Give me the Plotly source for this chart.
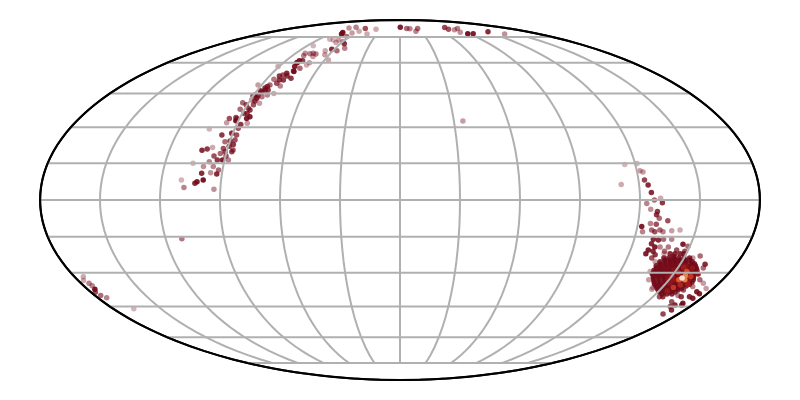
# %% Sky map of points on a Mollweide grid

import plotly.graph_objects as go


# %% Values (degrees)

arc_lon = [-78, -75.7, -87, -78, -57, -38, -59, -64, -63.5, -67, -60, -66, -62.4, -56.5, -67, -63.6, -72.8, -77.8, -51.4, -56,
           -84, -75, -71.8, -77, -82, -80.4, -70, -72, -57, -79.5, -76.9, -79.7, -78.4, -75.7, -73.5, -70.7, -90.8, -79.8, -83.2, -74,
           -78.3, -81, -85, -81, -84.6, -77.4, -85.4, -85.2, -92.3, -88, -78.3, -89.3, -86.8, -84.3, -81.7, -89.2, -86.3, -83.3, -93.5, -88.2,
           -92.5, -89, -84.6, -86, -95.7, -96, -91.4, -91.5, -84.4, -88.2, -103.8, -95.5, -87.6, -90.7, -87.5, -92.5, -87.6, -92.2, -98, -100.5,
           -103, -90.8, -87.3, -93, -95.9, -91, -93.7, -97.6, -88, -105.7, -100, -100.3, -95, -92, -95.8, -92.6, -102, -99, -103, -110,
           -108.3, -93.2,
           -86.3, -86.2, -87.1, -83.3, -86.8, -86.6, -87.2, -92.3, -90.5, -89.9, -86.9, -89.7, -89.5, -76.4, -79.5, -77.9, -81.3, -90.2, -90.6, -87.7]
arc_lat = [78, 77, 81.5, 82, 81, 80.5, 79, 77.6, 75.2, 73, 72, 71.4, 67.4, 66.6, 66.6, 64.3, 73, 73.4, 68, 70.6,
           69.4, 65.2, 64.7, 64.8, 65.2, 63.7, 60, 63.3, 61.5, 61.1, 61.1, 60, 58, 55.5, 57.2, 58.9, 58, 54.7, 53.3, 52.2,
           51.4, 51.4, 51.7, 49.8, 49, 48.5, 48.2, 46.6, 49, 46.3, 45, 44.3, 42.8, 43.5, 44.3, 42, 39.8, 40.5, 40.8, 38.3,
           37.8, 36, 34.5, 33.8, 33.8, 32, 32.8, 33.8, 31.7, 29.6, 29.3, 26.7, 26.7, 27.5, 24.6, 23.9, 22.7, 21.1, 21.5, 20.8,
           20.3, 19.7, 19.7, 19, 17.9, 16.3, 16.3, 15.6, 16.3, 15, 13.6, 10.9, 13.6, 12.2, 11.1, 10.6, 7.4, 8.1, 6.8, 8.1,
           5.1, 4.4,
           45.7, 47.5, 43.9, 46.6, 41.5, 37.5, 36, 34.2, 27.5, 24.2, 20.4, 17.9, 22, 55.8, 60, 53.3, 53.8, 43.9, 39.8, 31.2]
arc_alpha = [.95, .95, .45, .5, .7, .35, .35, .4, .6, .4, .45, .35, .85, .6, .35, .4, .3, .3, .5, .8,
             .3, .5, .5, .5, .45, .5, .4, .4, .35, .9, .8, .85, .9, .9, .6, .35, .35, .85, .8, .8,
             .8, .8, .55, .7, .6, .5, .8, .85, .4, .85, .35, .8, .85, .55, .5, .5, .7, .4, .6, .7,
             .6, .7, .9, .9, .7, .4, .95, .7, .4, .7, .3, .8, .7, .5, .7, .6, .8, .7, .35, .8,
             .85, .75, .75, .6, .7, .9, .8, .5, .5, .3, .45, .85, .5, .6, .45, .85, .9, .95, .85, .3,
             .5, .45,
             .8, .8, .8, .8, .8, .8, .8, .7, .7, .8, .7, .7, .8, .8, .7, .8, .7, .7, .7, .8]

top_lon = [-42.7, 0.5, 11, 16, 29, 23, 78, 77, 94.5, 83.6, 83, 88.6, 95.7, 124, 135.5, 35, -111.7, -167]
top_lat = [77, 82, 81, 80.8, 81, 79, 81.8, 80.5, 81, 80, 78.2, 77.2, 77.2, 78.6, 77, 32.7, -15.8, -46]
top_alpha = [.35, .9, .6, .5, .6, .5, .75, .7, .5, .45, .45, .95, .9, .85, .45, .4, .55, .3]

west_lon = [-175, -177, -175.3, -175, -175.7, -177.4, -176.6, -174.7]
west_lat = [-31.7, -33.4, -34.5, -35.6, -37.2, -38.5, -40, -41]
west_alpha = [.35, .35, .5, .5, .95, .7, .6, .5]

tail_lon = [114.6, 121, 111, 121.6, 123, 123, 124.5, 125.8, 127.2, 123.4, 130.3, 131.2, 125.5, 129, 128.7, 130.3, 134.8, 126.3, 122.2, 123.2,
            129.3, 127.6, 129.4, 131.8, 133.6, 137.9, 142, 129.8, 132.5, 135, 139.2, 146, 129.6, 132, 129.2, 128.8, 132, 134.7, 139, 138,
            144, 133, 133.9, 157.9, 163.3, 149, 148.6, 144,
            145, 170, 164.7, 167.7, 169.3, 172.7, 171.6, 174.7, 172.5, 171, 175.7, 175.4, 166.7, 163.6, 155.8, 153.8, 171.5, 173.5]
tail_lat = [14.4, 14.9, 6.3, 11.9, 11.4, 8.1, 6.1, 3, 0, -1.4, 0.7, -1.1, -3.7, -4.7, -6, -7.4, -8.4, -9.5, -10.8, -12.9,
            -9.8, -12.2, -12.9, -12.2, -12.9, -12.5, -12.2, -16, -16.3, -16, -16, -18.1, -17.8, -19.2, -20.4, -22, -21, -19.2, -19.2, -21,
            -23.1, -23.8, -22.4, -22.9, -26.4, -18.9, -21, -20.4,
            -37.2, -48.5, -42.8, -45, -44.3, -43.5, -40.5, -41.2, -38.3, -34.5, -36.8, -39.2, -40.5, -37.5, -40.5, -40.5, -46.6, -44.3]
tail_alpha = [.3, .3, .35, .4, .4, .75, .85, .85, .6, .5, .35, .8, .45, .8, .8, .6, .7, .5, .9, .5,
              .7, .6, .7, .6, .5, .4, .35, .85, .85, .6, .5, .9, .85, .9, .9, .9, .85, .5, .55, .6,
              .8, .7, .8, .6, .85, .6, .7, .7,
              .4, .75, .7, .75, .85, .9, .85, .9, .9, .4, .4, .9, .8, .7, .8, .7, .85, .85]

fringe_lon = [135.8, 136.3, 138.7, 144.7, 151.2, 164, 166.9, 167.2, 163.8, 154.7, 138.4]
fringe_lat = [-25.3, -29.5, -33, -36.4, -38.2, -40, -36, -33, -28, -23.8, -22]
fringe_alpha = [.4, .35, .4, .35, .4, .5, .5, .6, .6, .4, .35]

blob_lat = ([-22] * 4 + [-23.8] * 6 + [-25.3] * 7 + [-27] * 9 + [-28.9] * 10 + [-30.4] * 10 + [-32.1] * 9 + [-34] * 9 + [-35.8] * 7 + [-37.5] * 5 + [-39.3] * 3
            + [-24.6] * 6 + [-26.2] * 8 + [-28] * 9 + [-29.7] * 9 + [-31.2] * 9 + [-33] * 9 + [-35] * 8 + [-36.7] * 6 + [-38.4] * 4)
blob_lon = [141.5, 144.1, 146.8, 148.8,
            139.4, 142, 144.7, 147.3, 150, 153,
            138.4, 141.1, 143.8, 146.4, 149, 151.8, 155.5,
            137.6, 140.3, 143, 145.7, 148.4, 151, 153.8, 156.5, 158.6,
            137.9, 140.6, 143.3, 146, 148.8, 151.5, 154.2, 156.9, 159.6, 161.2,
            138.2, 140.9, 143.6, 146.4, 149.1, 151.9, 154.6, 157.3, 160, 162.8,
            140.4, 143.2, 146, 148.7, 151.5, 154.3, 157, 159.8, 162.6,
            142.7, 145.5, 148.3, 151.1, 153.9, 156.7, 159.6, 162.4, 164,
            145.8, 148.6, 151.5, 154.3, 157.2, 160, 162.9,
            149, 151.8, 154.7, 157.6, 160.5,
            153.6, 156.5, 159.4,
            140.5, 143.2, 145.8, 148.4, 151, 153.6,
            139, 141.7, 144.4, 147, 149.7, 152.4, 155, 157.4,
            138.5, 141.2, 144, 146.7, 149.4, 152.1, 154.8, 157.5, 160,
            139, 141.7, 144.4, 147.2, 150, 152.7, 155.4, 158.1, 160.8,
            139.5, 142.3, 145, 147.8, 150.6, 153.3, 156, 158.7, 161.5,
            141.5, 144.3, 147.2, 150, 152.8, 155.6, 158.4, 161.2, 163.5,
            144.1, 147, 149.8, 152.6, 155.5, 158.4, 161.2, 163.8,
            147.5, 150.3, 153.2, 156.1, 159, 161.5,
            151, 154, 157, 160]

core_lon = [149, 153.5, 158, 161, 152, 155, 148.5, 152.5, 163.5, 150.1, 152.1, 153, 162.9, 159, 156.4, 160.6, 156.3, 155.5, 157.3, 158.8, 156.5]
core_lat = [-29, -27, -28, -33, -34.5, -38, -32, -33, -30.5, -31.3, -30, -27.8, -35, -35.3, -36.4, -31.6, -29.5, -33, -31.3, -33, -32.3]
core_heat = [.15, .15, .2, .2, .2, .25, .15, .2, .2, .3, .35, .3, .3, .35, .45, .45, .55, .6, .72, .72, 1]

lon_ticks = [-150, -120, -90, -60, -30, 0, 30, 60, 90, 120, 150]
lat_ticks = [-75, -60, -45, -30, -15, 0, 15, 30, 45, 60, 75]


# %% Assemble the points

dark_lon = arc_lon + top_lon + west_lon + tail_lon + fringe_lon + blob_lon
dark_lat = arc_lat + top_lat + west_lat + tail_lat + fringe_lat + blob_lat
dark_alpha = arc_alpha + top_alpha + west_alpha + tail_alpha + fringe_alpha + [.85] * len(blob_lon)

heat_scale = [
    [0.0, "#720818"],
    [0.3, "#a81c1c"],
    [0.6, "#e8602c"],
    [0.85, "#fdb97a"],
    [1.0, "#fff2e0"],
]


# %% Figure

fig = go.Figure()
fig.add_trace(go.Scattergeo(
    lon=dark_lon + core_lon,
    lat=dark_lat + core_lat,
    mode="markers",
    marker={
        "size": 5.5,
        "color": [0] * len(dark_lon) + core_heat,
        "colorscale": heat_scale,
        "cmin": 0,
        "cmax": 1,
        "opacity": dark_alpha + [.9] * len(core_lon),
        "line": {"width": 0},
    },
    hoverinfo="skip",
))

# Grid goes on top of the points and stops at +-75 latitude
for tick in lat_ticks:
    fig.add_trace(go.Scattergeo(
        lon=list(range(-180, 181, 2)),
        lat=[tick] * 181,
        mode="lines",
        line={"width": 2, "color": "#b0b0b0"},
        hoverinfo="skip",
    ))
for tick in lon_ticks:
    fig.add_trace(go.Scattergeo(
        lon=[tick] * 31,
        lat=list(range(-75, 76, 5)),
        mode="lines",
        line={"width": 2, "color": "#b0b0b0"},
        hoverinfo="skip",
    ))

# The frame has to sit above the grid ends, so trace the outline as well
for edge in [-179.9, 179.9]:
    fig.add_trace(go.Scattergeo(
        lon=[edge] * 37,
        lat=list(range(-90, 91, 5)),
        mode="lines",
        line={"width": 2, "color": "black"},
        hoverinfo="skip",
    ))

fig.update_layout(
    width=800,
    height=400,
    showlegend=False,
    paper_bgcolor="white",
    margin={"l": 0, "r": 0, "t": 0, "b": 0},
    geo={
        "domain": {"x": [0.04, 0.94], "y": [0.07, 0.97]},
        "projection": {"type": "mollweide"},
        "showland": False,
        "showocean": False,
        "showlakes": False,
        "showrivers": False,
        "showcountries": False,
        "showcoastlines": False,
        "showframe": True,
        "framecolor": "black",
        "framewidth": 2,
        "bgcolor": "white",
        "lonaxis": {"showgrid": False},
        "lataxis": {"showgrid": False},
    },
)

fig.write_html("out.html")
